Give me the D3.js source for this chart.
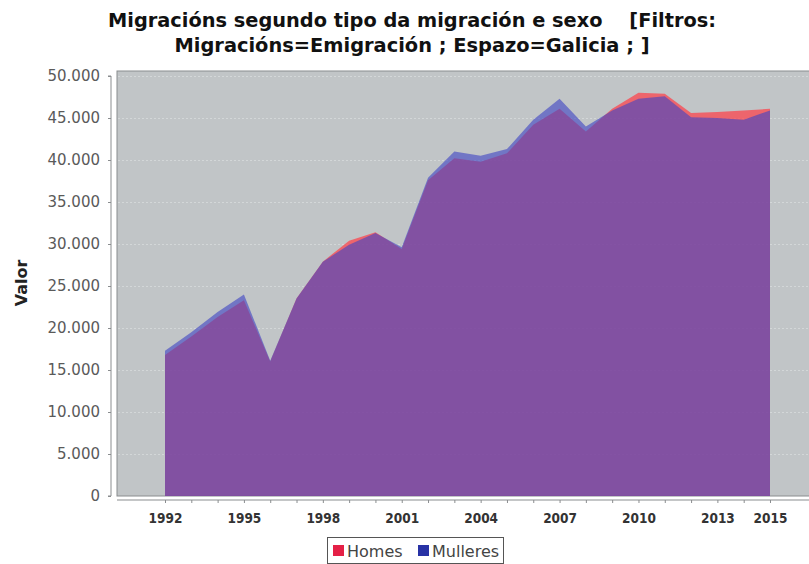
<!DOCTYPE html>
<html>
<head>
<meta charset="utf-8">
<script src="https://cdn.jsdelivr.net/npm/d3@7/dist/d3.min.js"></script>
<style>
  html, body { margin: 0; padding: 0; background: #ffffff; overflow: hidden; }
  svg { display: block; }
</style>
</head>
<body>
<svg id="chart" width="809" height="564"></svg>
<script>
// Emigración desde Galicia por sexo, 1992–2015
const years = [1992, 1993, 1994, 1995, 1996, 1997, 1998, 1999, 2000, 2001, 2002, 2003,
               2004, 2005, 2006, 2007, 2008, 2009, 2010, 2011, 2012, 2013, 2014, 2015];
const homes = [16800, 19000, 21300, 23300, 16000, 23500, 27900, 30400, 31400, 29400, 37600, 40200,
               39800, 40800, 44200, 46100, 43400, 46100, 48000, 47900, 45600, 45700, 45900, 46100];
const mulleres = [17300, 19500, 21900, 24000, 16100, 23500, 27900, 29900, 31300, 29600, 37900, 41000,
                  40500, 41300, 44800, 47300, 44000, 45900, 47300, 47600, 45100, 45000, 44800, 45900];
const seriesNames = ["Homes", "Mulleres"];
const labelledYears = [1992, 1995, 1998, 2001, 2004, 2007, 2010, 2013, 2015];
const yTicks = [0, 5000, 10000, 15000, 20000, 25000, 30000, 35000, 40000, 45000, 50000];
const titleLines = ["Migracións segundo tipo da migración e sexo    [Filtros:",
                    "Migracións=Emigración ; Espazo=Galicia ; ]"];

const colors = { Homes: "rgb(255,60,70)", Mulleres: "rgb(65,70,195)" };
const opacity = { Homes: 0.7, Mulleres: 0.62 };
const legendColors = { Homes: "rgb(228,32,70)", Mulleres: "rgb(40,50,165)" };

const svg = d3.select("#chart");
const plot = { left: 117, right: 818, top: 71, bottom: 496 };

const x = d3.scalePoint().domain(years).range([plot.left, plot.right]).padding(1.825);
const y = d3.scaleLinear().domain([0, 50000]).range([plot.bottom, 76]);

const fmt = d3.formatLocale({ decimal: ",", thousands: ".", grouping: [3], currency: ["", ""] }).format(",d");

// Title
const titleWidths = [608, 475];
svg.append("g").selectAll("text").data(titleLines).join("text")
  .attr("x", 412).attr("y", (d, i) => 27 + i * 25)
  .attr("text-anchor", "middle")
  .attr("font-family", "DejaVu Sans Condensed, DejaVu Sans, sans-serif")
  .attr("font-weight", "bold").attr("font-size", 19.5)
  .attr("fill", "#111")
  .attr("xml:space", "preserve")
  .style("white-space", "pre")
  .attr("textLength", (d, i) => titleWidths[i])
  .attr("lengthAdjust", "spacingAndGlyphs")
  .text(d => d);

// Plot background
svg.append("rect")
  .attr("x", plot.left).attr("y", plot.top)
  .attr("width", plot.right - plot.left).attr("height", plot.bottom - plot.top)
  .attr("fill", "#c1c5c7").attr("stroke", "#8a8d8f").attr("stroke-width", 1);

// Horizontal gridlines
svg.append("g").selectAll("line").data(yTicks.filter(v => v > 0)).join("line")
  .attr("x1", plot.left + 1).attr("x2", plot.right)
  .attr("y1", d => y(d) + 0.5).attr("y2", d => y(d) + 0.5)
  .attr("stroke", "#d3d7d8").attr("stroke-width", 1)
  .attr("stroke-dasharray", "2,2");

// Areas
const area = vals => d3.area()
  .x((d, i) => x(years[i]))
  .y0(y(0))
  .y1(d => y(d))(vals);

const seriesData = { Homes: homes, Mulleres: mulleres };
svg.append("g").selectAll("path").data(seriesNames).join("path")
  .attr("d", s => area(seriesData[s]))
  .attr("fill", s => colors[s])
  .attr("fill-opacity", s => opacity[s]);

// Y axis
const yAxis = svg.append("g").attr("transform", "translate(111,0)")
  .call(d3.axisLeft(y).tickValues(yTicks).tickFormat(fmt).tickSize(3).tickPadding(8));
yAxis.select(".domain").attr("stroke", "#8a8d8f").attr("d", `M-3,${y(50000)}H0V${y(0)}H-3`);
yAxis.selectAll(".tick line").attr("stroke", "#8a8d8f");
yAxis.selectAll("text")
  .attr("font-family", "DejaVu Sans, sans-serif").attr("font-size", 15)
  .attr("fill", "#5a5a5a");

// Y axis title
svg.append("text")
  .attr("transform", "translate(27,283) rotate(-90)")
  .attr("text-anchor", "middle")
  .attr("font-family", "DejaVu Sans, sans-serif")
  .attr("font-weight", "bold").attr("font-size", 16)
  .attr("fill", "#222")
  .text("Valor");

// X axis
const xAxis = svg.append("g").attr("transform", "translate(0,500)")
  .call(d3.axisBottom(x).tickSize(3).tickPadding(10)
    .tickFormat(d => labelledYears.includes(d) ? d : ""));
xAxis.select(".domain").attr("stroke", "#8a8d8f").attr("d", `M${plot.left},0H${plot.right}`);
xAxis.selectAll(".tick line").attr("stroke", "#8a8d8f");
xAxis.selectAll("text")
  .attr("font-family", "DejaVu Sans Condensed, DejaVu Sans, sans-serif")
  .attr("font-weight", "bold").attr("font-size", 13.5)
  .attr("fill", "#333");

// Legend
const legend = svg.append("g").attr("transform", "translate(327,537)");
legend.append("rect").attr("x", 0.5).attr("y", 0.5).attr("width", 176).attr("height", 26)
  .attr("fill", "#fff").attr("stroke", "#555");
const items = [{ name: "Homes", x: 6 }, { name: "Mulleres", x: 91 }];
const li = legend.selectAll("g.item").data(items).join("g").attr("class", "item")
  .attr("transform", d => `translate(${d.x},0)`);
li.append("rect").attr("x", 0).attr("y", 8).attr("width", 11).attr("height", 11)
  .attr("fill", d => legendColors[d.name]);
li.append("text").attr("x", 14).attr("y", 19.5)
  .attr("font-family", "DejaVu Sans, sans-serif").attr("font-size", 16)
  .attr("fill", "#444")
  .text(d => d.name);
</script>
</body>
</html>
